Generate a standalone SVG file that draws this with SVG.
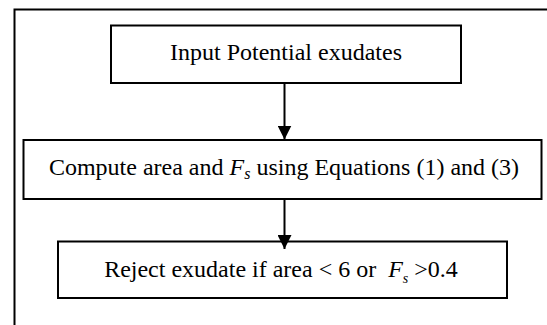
<svg xmlns="http://www.w3.org/2000/svg" width="547" height="325" viewBox="0 0 547 325">
<defs>
<style>
.box{fill:#fff;stroke:#000;stroke-width:2}
.frame{fill:none;stroke:#000;stroke-width:2}
text{font-family:'Liberation Serif','Times New Roman',serif;font-size:24px;fill:#000;text-anchor:middle}
.c{stroke:#000;stroke-width:2;fill:none}
</style>
<marker id="ah" markerWidth="14" markerHeight="14" refX="14" refY="7" orient="auto" markerUnits="userSpaceOnUse">
<path d="M0,0 L14,7 L0,14 Z" fill="#000"/>
</marker>
</defs>
<rect x="0" y="0" width="547" height="325" fill="#fff"/>
<path class="frame" d="M14.5,340 V9.5 H560"/>
<g id="input">
<rect class="box" x="111" y="25.5" width="350" height="57.5"/>
<text x="286" y="60">Input Potential exudates</text>
</g>
<g id="compute">
<rect class="box" x="23.5" y="140" width="518" height="59"/>
<text x="284" y="175">Compute area and <tspan font-style="italic">F</tspan><tspan font-style="italic" font-size="16" dy="4">s</tspan><tspan dy="-4"> using Equations (1) and (3)</tspan></text>
</g>
<g id="reject">
<rect class="box" x="58" y="241.5" width="449" height="56.5"/>
<text x="281" y="277" xml:space="preserve">Reject exudate if area &lt; 6 or  <tspan font-style="italic">F</tspan><tspan font-style="italic" font-size="14" dy="6">s</tspan><tspan dy="-6"> &gt;0.4</tspan></text>
</g>
<g id="connectors">
<line class="c" x1="284.5" y1="83" x2="284.5" y2="139.5" marker-end="url(#ah)"/>
<line class="c" x1="284.5" y1="199" x2="284.5" y2="249" marker-end="url(#ah)"/>
</g>
</svg>
